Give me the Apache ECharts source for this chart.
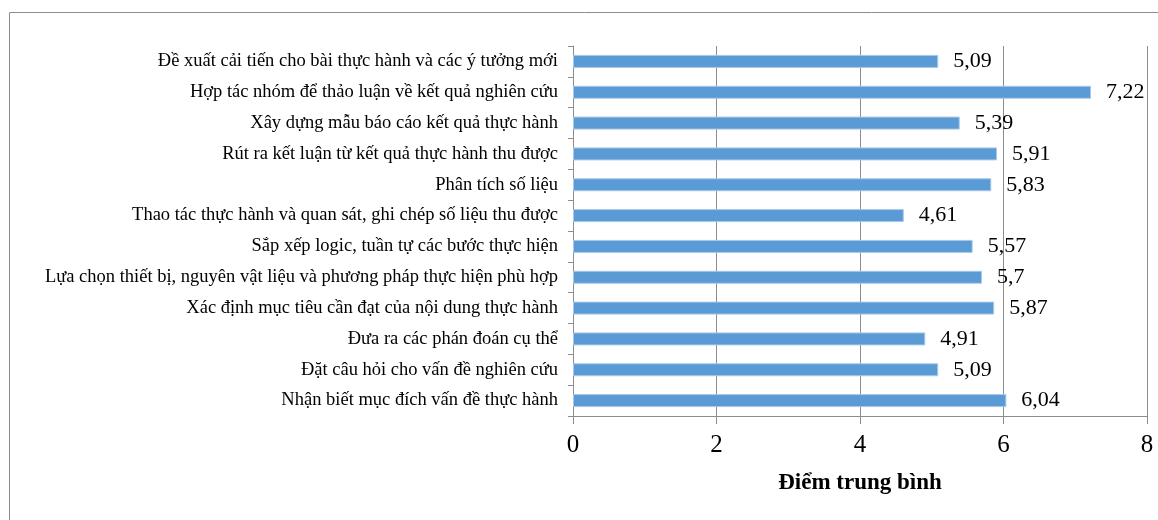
<!DOCTYPE html>
<html>
<head>
<meta charset="utf-8">
<script src="https://cdn.jsdelivr.net/npm/echarts@6/dist/echarts.min.js"></script>
<style>
  html, body { margin: 0; padding: 0; background: #fff; }
  #chart { width: 1158px; height: 520px; }
</style>
</head>
<body>
<div id="chart"></div>
<script>
// danh mục (từ trên xuống dưới)
const categories = [
  "Đề xuất cải tiến cho bài thực hành và các ý tưởng mới",
  "Hợp tác nhóm để thảo luận về kết quả nghiên cứu",
  "Xây dựng mẫu báo cáo kết quả thực hành",
  "Rút ra kết luận từ kết quả thực hành thu được",
  "Phân tích số liệu",
  "Thao tác thực hành và quan sát, ghi chép số liệu thu được",
  "Sắp xếp logic, tuần tự các bước thực hiện",
  "Lựa chọn thiết bị, nguyên vật liệu và phương pháp thực hiện phù hợp",
  "Xác định mục tiêu cần đạt của nội dung thực hành",
  "Đưa ra các phán đoán cụ thể",
  "Đặt câu hỏi cho vấn đề nghiên cứu",
  "Nhận biết mục đích vấn đề thực hành"
];
const scores = [5.09, 7.22, 5.39, 5.91, 5.83, 4.61, 5.57, 5.7, 5.87, 4.91, 5.09, 6.04];
const axisName = "Điểm trung bình";

const serif = "'Liberation Serif', 'Times New Roman', serif";
const gray = "#8c8c8c";

const myChart = echarts.init(document.getElementById("chart"));
const option = {
  backgroundColor: "#fff",
  animation: false,
  graphic: [
    {
      type: "rect",
      shape: { x: 9.5, y: 12.5, width: 1200, height: 600 },
      style: { fill: "none", stroke: gray, lineWidth: 1 },
      silent: true
    }
  ],
  grid: {
    left: 573,
    right: 11,
    top: 46,
    bottom: 104,
    containLabel: false
  },
  xAxis: {
    type: "value",
    min: 0,
    max: 8,
    interval: 2,
    name: axisName,
    nameLocation: "middle",
    nameGap: 56,
    nameTextStyle: {
      fontFamily: serif,
      fontSize: 23,
      fontWeight: "bold",
      color: "#000"
    },
    axisLine: { show: true, lineStyle: { color: gray, width: 1 } },
    axisTick: { show: true, length: 8, lineStyle: { color: gray } },
    axisLabel: {
      margin: 17,
      fontFamily: serif,
      fontSize: 25,
      color: "#000"
    },
    splitLine: { show: true, lineStyle: { color: gray, width: 1 } }
  },
  yAxis: {
    type: "category",
    data: categories,
    inverse: true,
    axisLine: { show: true, lineStyle: { color: gray, width: 1 } },
    axisTick: { show: true, length: 5, lineStyle: { color: gray } },
    axisLabel: {
      margin: 15,
      fontFamily: serif,
      fontSize: 18.5,
      color: "#000"
    },
    splitLine: { show: false }
  },
  series: [
    {
      type: "bar",
      data: scores,
      barWidth: 13,
      itemStyle: {
        color: "#5B9BD5",
        borderColor: "#a9c8ea",
        borderWidth: 1
      },
      label: {
        show: true,
        position: "right",
        distance: 15,
        fontFamily: serif,
        fontSize: 22,
        color: "#000",
        formatter: function (p) {
          return String(p.value).replace(".", ",");
        }
      }
    }
  ]
};
myChart.setOption(option);
</script>
</body>
</html>
